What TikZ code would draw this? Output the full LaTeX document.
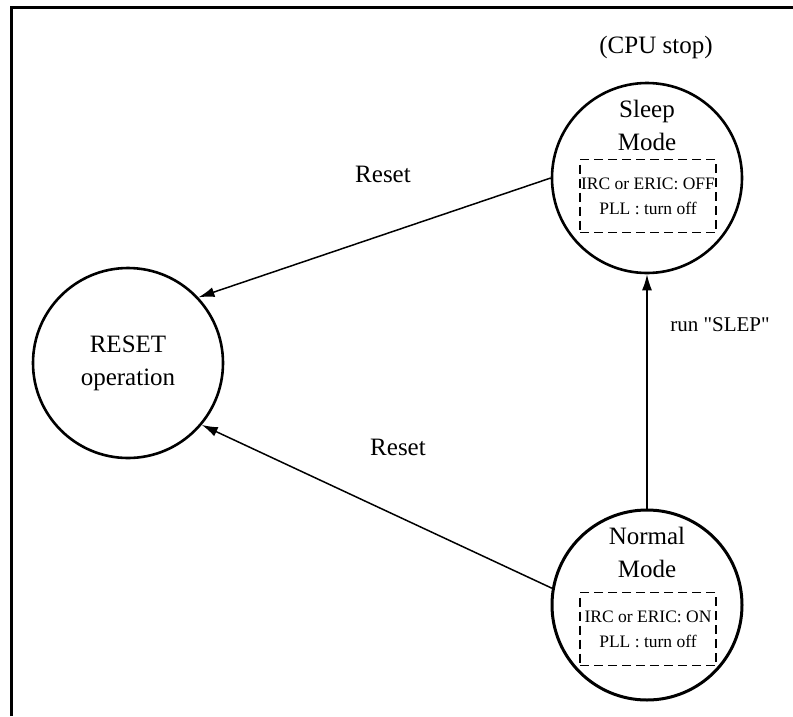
\documentclass[tikz,border=0pt]{standalone}
\usepackage{fontspec}
\setmainfont{Liberation Serif}
\usetikzlibrary{arrows.meta}

\begin{document}
\begin{tikzpicture}[
        x=1pt, y=-1pt,
        state/.style={draw, circle, line width=2.6pt, minimum size=190pt, inner sep=0pt},
        modename/.style={align=center, inner sep=0pt, font=\fontsize{25}{33}\selectfont},
        infobox/.style={draw, dash pattern=on 9pt off 5pt, line width=1.4pt, minimum width=136pt, minimum height=73pt, align=center, inner sep=0pt, font=\fontsize{17.5}{25}\selectfont},
        lbl/.style={inner sep=0pt, font=\fontsize{25}{28}\selectfont},
        trans/.style={draw, line width=1.5pt, -{Latex[length=16pt,width=10pt]}}
    ]
        \useasboundingbox (0,0) rectangle (793,716);
        \draw[line width=3pt] (11,716) -- (11,7) -- (793,7);

        % states
        \node[state] (reset) at (128,363) {};
        \node[modename] (resettitle) at (reset) {RESET\\operation};
        \node[state] (sleep) at (647,178) {};
        \node[state, line width=3pt] (normal) at (647,605) {};

        \node[lbl] (cpustop) at (656,47) {(CPU stop)};
        \node[modename] (sleeptitle) at (647,125) {Sleep\\Mode};
        \node[infobox] (sleepbox) at (648,196) {IRC or ERIC: OFF\\PLL : turn off};
        \node[modename] (normaltitle) at (647,552) {Normal\\Mode};
        \node[infobox] (normalbox) at (648,629) {IRC or ERIC: ON\\PLL : turn off};

        % transitions
        \draw[trans] (sleep.180) -- (reset.43);
        \draw[trans] (normal.170) -- (reset.-40);
        \draw[trans] (normal) -- (sleep);

        \node[lbl] (resetlbl1) at (383,174) {Reset};
        \node[lbl] (resetlbl2) at (398,447) {Reset};
        \node[lbl, font=\fontsize{21}{25}\selectfont] (runlbl) at (720,325) {run \textquotedbl SLEP\textquotedbl};
    \end{tikzpicture}
\end{document}
